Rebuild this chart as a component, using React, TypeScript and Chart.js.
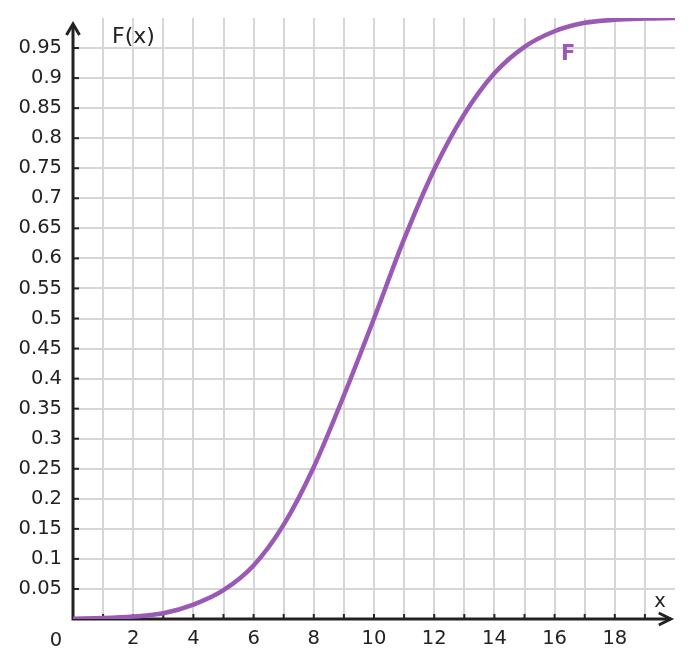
import { useEffect, useRef } from "react";
import Chart from "chart.js/auto";
import type { Plugin } from "chart.js";

// values at x = 0..20
const xValues = [0, 1, 2, 3, 4, 5, 6, 7, 8, 9, 10, 11, 12, 13, 14, 15, 16, 17, 18, 19, 20];
const fValues = [
  0.0006, 0.0015, 0.004, 0.0095, 0.024, 0.048, 0.089, 0.157, 0.253, 0.372, 0.5,
  0.632, 0.748, 0.84, 0.908, 0.952, 0.978, 0.992, 0.997, 0.999, 1.0,
];
const xTickLabels = [2, 4, 6, 8, 10, 12, 14, 16, 18];
const yTickLabels = [
  0.05, 0.1, 0.15, 0.2, 0.25, 0.3, 0.35, 0.4, 0.45, 0.5, 0.55, 0.6, 0.65, 0.7, 0.75,
  0.8, 0.85, 0.9, 0.95,
];

const FONT = "'DejaVu Sans', sans-serif";
const TEXT = "#222";
const GRID = "#d6d6d6";
const CURVE = "#9b59b6";

const axesPlugin: Plugin<"line"> = {
  id: "axes",
  beforeDatasetsDraw(chart) {
    const { ctx } = chart;
    const x = chart.scales.x;
    const y = chart.scales.y;
    const x0 = x.getPixelForValue(0);
    const y0 = y.getPixelForValue(0);
    const xEnd = x.getPixelForValue(19.86);
    const yEnd = y.getPixelForValue(0.99);
    ctx.save();
    ctx.strokeStyle = TEXT;
    ctx.lineWidth = 2;
    for (let i = 1; i < 20; i++) {
      const px = x.getPixelForValue(i);
      ctx.beginPath();
      ctx.moveTo(px, y0);
      ctx.lineTo(px, y0 - 5);
      ctx.stroke();
    }
    for (const v of yTickLabels) {
      const py = y.getPixelForValue(v);
      ctx.beginPath();
      ctx.moveTo(x0, py);
      ctx.lineTo(x0 + 6, py);
      ctx.stroke();
    }
    ctx.lineWidth = 3;
    ctx.lineJoin = "miter";
    ctx.beginPath();
    ctx.moveTo(x0, yEnd);
    ctx.lineTo(x0, y0);
    ctx.lineTo(xEnd, y0);
    ctx.stroke();
    ctx.beginPath();
    ctx.moveTo(xEnd - 12, y0 - 6);
    ctx.lineTo(xEnd, y0);
    ctx.lineTo(xEnd - 12, y0 + 6);
    ctx.moveTo(x0 - 6.5, yEnd + 11);
    ctx.lineTo(x0, yEnd);
    ctx.lineTo(x0 + 6.5, yEnd + 11);
    ctx.stroke();
    ctx.restore();
  },
  afterDraw(chart) {
    const { ctx } = chart;
    const x0 = chart.scales.x.getPixelForValue(0);
    const y0 = chart.scales.y.getPixelForValue(0);
    ctx.save();
    ctx.textBaseline = "alphabetic";
    ctx.fillStyle = TEXT;
    ctx.font = `19.5px ${FONT}`;
    ctx.textAlign = "center";
    ctx.fillText("0", x0 - 17, y0 + 27);
    ctx.fillText("x", x0 + 587, y0 - 12);
    ctx.textAlign = "left";
    ctx.font = `22px ${FONT}`;
    ctx.fillText("F(x)", x0 + 39, 43);
    ctx.fillStyle = CURVE;
    ctx.font = `bold 21px ${FONT}`;
    ctx.textAlign = "center";
    ctx.fillText("F", chart.scales.x.getPixelForValue(16.45), 60);
    ctx.restore();
  },
};

export default function App() {
  const canvasRef = useRef<HTMLCanvasElement>(null);

  useEffect(() => {
    const chart = new Chart(canvasRef.current!, {
      type: "line",
      data: {
        datasets: [
          {
            label: "F",
            data: xValues.map((x, i) => ({ x, y: fValues[i] })),
            borderColor: CURVE,
            borderWidth: 4.5,
            pointRadius: 0,
            cubicInterpolationMode: "monotone",
            fill: false,
          },
        ],
      },
      options: {
        animation: false,
        responsive: true,
        maintainAspectRatio: false,
        layout: { padding: { top: 18, right: 18, left: 0, bottom: 0 } },
        plugins: {
          legend: { display: false },
          tooltip: { enabled: false },
        },
        scales: {
          x: {
            type: "linear",
            min: 0,
            max: 20,
            afterFit: (s) => {
              s.height = 49;
              s.paddingLeft = 0;
              s.paddingRight = 0;
            },
            border: { display: false },
            grid: {
              color: (c) => (c.tick.value === 0 || c.tick.value === 20 ? "rgba(0,0,0,0)" : GRID),
              lineWidth: 2,
              drawTicks: false,
            },
            ticks: {
              stepSize: 1,
              autoSkip: false,
              maxRotation: 0,
              padding: 8,
              color: TEXT,
              font: { family: FONT, size: 19.5 },
              callback: (v) => (xTickLabels.includes(Number(v)) ? String(v) : ""),
            },
          },
          y: {
            type: "linear",
            min: 0,
            max: 1,
            afterFit: (s) => {
              s.width = 73;
              s.paddingTop = 0;
              s.paddingBottom = 0;
            },
            border: { display: false },
            grid: {
              color: (c) => (c.tick.value === 0 || c.tick.value === 1 ? "rgba(0,0,0,0)" : GRID),
              lineWidth: 2,
              drawTicks: false,
            },
            ticks: {
              stepSize: 0.05,
              autoSkip: false,
              padding: 11,
              color: TEXT,
              font: { family: FONT, size: 19.5 },
              callback: (v) => {
                const r = Math.round(Number(v) * 100) / 100;
                return yTickLabels.includes(r) ? String(r) : "";
              },
            },
          },
        },
      },
      plugins: [axesPlugin],
    });

    return () => chart.destroy();
  }, []);

  return (
    <div style={{ position: "absolute", left: 0, top: 0, width: 693, height: 668, background: "#fff" }}>
      <canvas ref={canvasRef}></canvas>
    </div>
  );
}
